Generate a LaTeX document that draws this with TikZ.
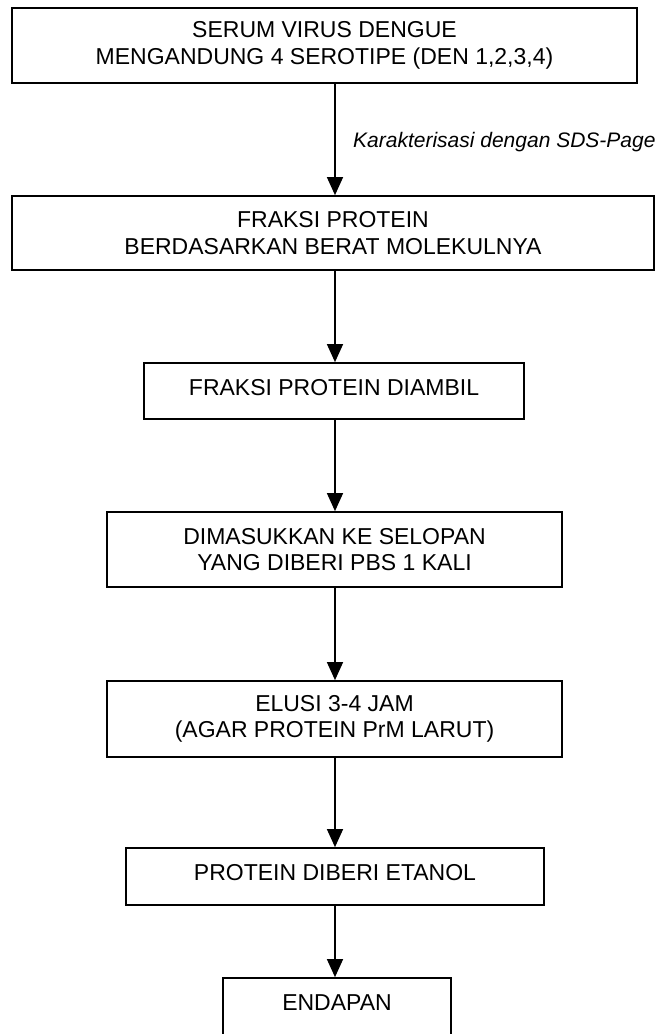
\documentclass[tikz,border=0pt]{standalone}
\usepackage{fontspec}
\setmainfont{Liberation Sans}
\usetikzlibrary{arrows.meta}
\begin{document}
\begin{tikzpicture}[x=1pt,y=-1pt,
  box/.style={draw, line width=1.7pt, inner sep=0pt, align=center,
    font=\fontsize{23}{26.5}\selectfont},
  single/.style={text height=16.5pt, text depth=8pt},
  arr/.style={line width=1.3pt, -{Triangle[length=18pt,width=16pt]}},
  lbl/.style={font=\fontsize{21}{25}\selectfont\itshape, inner sep=0pt}]
\useasboundingbox (0,0) rectangle (656,1034);
\fill[white] (0,0) rectangle (656,1034);
\coordinate (ax) at (335,0);
\node[box, minimum width=625pt, minimum height=75pt] (b1) at (324.5,45.5)
  {SERUM VIRUS DENGUE\\MENGANDUNG 4 SEROTIPE (DEN 1,2,3,4)};
\node[box, minimum width=642pt, minimum height=74pt] (b2) at (333,233)
  {FRAKSI PROTEIN\\BERDASARKAN BERAT MOLEKULNYA};
\node[box, single, minimum width=380pt, minimum height=56pt] (b3) at (334,391)
  {FRAKSI PROTEIN DIAMBIL};
\node[box, minimum width=455pt, minimum height=75pt] (b4) at (334.5,549.5)
  {DIMASUKKAN KE SELOPAN\\YANG DIBERI PBS 1 KALI};
\node[box, minimum width=455pt, minimum height=76pt] (b5) at (334.5,719)
  {ELUSI 3-4 JAM\\(AGAR PROTEIN PrM LARUT)};
\node[box, single, minimum width=418pt, minimum height=57pt] (b6) at (335,876.5)
  {PROTEIN DIBERI ETANOL};
\node[box, single, minimum width=228pt, minimum height=57pt] (b7) at (337,1006.5)
  {ENDAPAN};
\node[lbl, anchor=base west] (l1) at (353,147) {Karakterisasi dengan SDS-Page};
\draw[arr] (b1.south -| ax) -- (b2.north -| ax);
\draw[arr] (b2.south -| ax) -- (b3.north -| ax);
\draw[arr] (b3.south -| ax) -- (b4.north -| ax);
\draw[arr] (b4.south -| ax) -- (b5.north -| ax);
\draw[arr] (b5.south -| ax) -- (b6.north -| ax);
\draw[arr] (b6.south -| ax) -- (b7.north -| ax);
\end{tikzpicture}
\end{document}
